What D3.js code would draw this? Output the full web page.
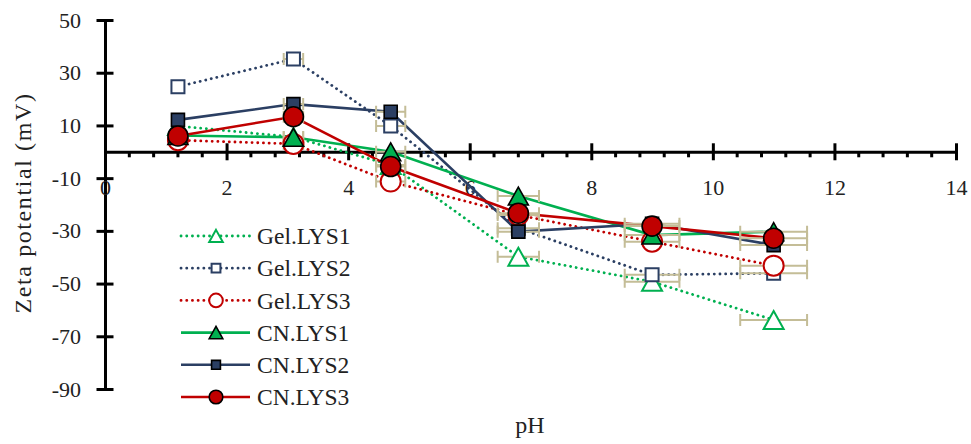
<!DOCTYPE html>
<html>
<head>
<meta charset="utf-8">
<script src="https://cdn.jsdelivr.net/npm/d3@7"></script>
<style>
  body { margin: 0; background: #fff; }
  svg { display: block; font-family: "Liberation Serif", "DejaVu Serif", serif; }
</style>
</head>
<body>
<div class="chart"></div>
<script>
// pH of each measurement
var ph = [1.2, 3.1, 4.7, 6.8, 9.0, 11.0];
// horizontal error (pH units)
var phErr = [0.06, 0.16, 0.24, 0.34, 0.45, 0.55];

var gelLys1 = [9.8, 5.6, -5, -39.8, -49.3, -63.8];
var gelLys2 = [24.7, 35.2, 9.8, -29, -46.7, -46.1];
var gelLys3 = [4.4, 3.0, -11.3, -24, -34.1, -43.2];
var cnLys1 = [6.2, 5.5, 0, -16.8, -31.6, -30.3];
var cnLys2 = [12.1, 18.1, 15.2, -30.3, -27.3, -35.4];
var cnLys3 = [6.0, 13.3, -5.6, -23.3, -28.2, -32.8];

var seriesNames = ["Gel.LYS1", "Gel.LYS2", "Gel.LYS3", "CN.LYS1", "CN.LYS2", "CN.LYS3"];
var xTicks = [0, 2, 4, 6, 8, 10, 12, 14];
var yTicks = [50, 30, 10, -10, -30, -50, -70, -90];

var green = "#00b050", navy = "#2b3f63", red = "#c00000", tan = "#c4bd97";

var series = [
  {name: seriesNames[0], values: gelLys1, color: green, dotted: true, shape: "tri", filled: false},
  {name: seriesNames[1], values: gelLys2, color: navy, dotted: true, shape: "sq", filled: false},
  {name: seriesNames[2], values: gelLys3, color: red, dotted: true, shape: "circ", filled: false},
  {name: seriesNames[3], values: cnLys1, color: green, dotted: false, shape: "tri", filled: true},
  {name: seriesNames[4], values: cnLys2, color: navy, dotted: false, shape: "sq", filled: true},
  {name: seriesNames[5], values: cnLys3, color: red, dotted: false, shape: "circ", filled: true}
];

var W = 971, H = 444;
var svg = d3.select(".chart").append("svg").attr("width", W).attr("height", H);

var x = d3.scaleLinear().domain([0, 14]).range([105, 956]);
var y = d3.scaleLinear().domain([-90, 50]).range([389, 20]);

// marker path, centred on its bounding box
function markerPath(shape, k) {
  k = k || 1;
  if (shape == "tri") {
    var w = 20 * k, h = 18 * k;
    return "M0," + (-h / 2) + "L" + (w / 2) + "," + (h / 2) + "L" + (-w / 2) + "," + (h / 2) + "Z";
  }
  if (shape == "sq") {
    var s = 13 * k / 2;
    return "M" + -s + "," + -s + "H" + s + "V" + s + "H" + -s + "Z";
  }
  var r = 10 * k;
  return "M" + r + ",0A" + r + "," + r + " 0 1,1 " + -r + ",0A" + r + "," + r + " 0 1,1 " + r + ",0Z";
}

function styleMarker(sel, s) {
  if (s.filled) {
    sel.attr("fill", s.color).attr("stroke", "#000").attr("stroke-width", 1.6);
  } else {
    sel.attr("fill", "#fff").attr("stroke", s.color).attr("stroke-width", 2);
  }
}

// y axis
var yAxis = svg.append("g")
  .attr("transform", "translate(" + x(0) + ",0)")
  .call(d3.axisLeft(y).tickValues(yTicks).tickSize(8).tickSizeOuter(0).tickFormat(function(d) { return String(d); }));
yAxis.select(".domain").attr("stroke", "#000").attr("stroke-width", 3);
yAxis.selectAll(".tick line").attr("x1", -8.5).attr("x2", 8.5).attr("stroke-width", 3);
yAxis.selectAll(".tick text").attr("x", -24).attr("font-size", 22).attr("fill", "#222")
  .attr("font-family", "Liberation Serif");

// x axis at y = 0
var xAxis = svg.append("g")
  .attr("transform", "translate(0," + y(0) + ")")
  .call(d3.axisBottom(x).tickValues(xTicks).tickSize(8).tickSizeOuter(0).tickFormat(function(d) { return String(d); }));
xAxis.select(".domain").attr("stroke", "#000").attr("stroke-width", 3);
xAxis.selectAll(".tick line").attr("y1", -8.5).attr("y2", 8.5).attr("stroke-width", 3);
xAxis.selectAll(".tick text").attr("y", 28).attr("font-size", 22).attr("fill", "#222")
  .attr("font-family", "Liberation Serif");

// minor ticks every 0.4
var minor = d3.range(0, 14.001, 0.4).filter(function(v) { return Math.abs(v / 2 - Math.round(v / 2)) > 0.01; });
xAxis.selectAll(".minor").data(minor).enter().append("line")
  .attr("x1", function(d) { return x(d); }).attr("x2", function(d) { return x(d); })
  .attr("y1", 0).attr("y2", 5.5).attr("stroke", "#000").attr("stroke-width", 3);

// titles
svg.append("text").attr("x", 530).attr("y", 433).attr("text-anchor", "middle")
  .attr("font-size", 24).attr("fill", "#222").text("pH");
svg.append("text").attr("transform", "translate(31,203) rotate(-90)").attr("text-anchor", "middle")
  .attr("font-size", 24).attr("letter-spacing", 1.6).attr("fill", "#222").text("Zeta potential (mV)");

var line = d3.line()
  .x(function(d, i) { return x(ph[i]); })
  .y(function(d) { return y(d); });

var plot = svg.append("g");

// lines
series.forEach(function(s) {
  plot.append("path")
    .attr("d", line(s.values))
    .attr("fill", "none")
    .attr("stroke", s.color)
    .attr("stroke-width", s.dotted ? 2.8 : 2.6)
    .attr("stroke-linecap", s.dotted ? "round" : "butt")
    .attr("stroke-dasharray", s.dotted ? "0.1 5.6" : null);
});

// horizontal error bars
series.forEach(function(s) {
  var g = plot.append("g").attr("stroke", tan).attr("stroke-width", 2).attr("fill", "none");
  s.values.forEach(function(v, i) {
    var x1 = x(ph[i] - phErr[i]), x2 = x(ph[i] + phErr[i]), yy = y(v);
    g.append("path").attr("d", "M" + x1 + "," + yy + "H" + x2 +
      "M" + x1 + "," + (yy - 6) + "V" + (yy + 6) + "M" + x2 + "," + (yy - 6) + "V" + (yy + 6));
  });
});

// markers
series.forEach(function(s) {
  plot.append("g").selectAll("path")
    .data(s.values)
    .enter().append("path")
    .attr("d", markerPath(s.shape))
    .attr("transform", function(d, i) { return "translate(" + x(ph[i]) + "," + y(d) + ")"; })
    .call(styleMarker, s);
});

// legend
var legend = svg.append("g");
series.forEach(function(s, i) {
  var ly = 236 + i * 32.2;
  var g = legend.append("g").attr("transform", "translate(0," + ly + ")");
  g.append("line").attr("x1", 181).attr("x2", 250).attr("y1", 0).attr("y2", 0)
    .attr("stroke", s.color).attr("stroke-width", s.dotted ? 2.8 : 2.6)
    .attr("stroke-linecap", s.dotted ? "round" : "butt")
    .attr("stroke-dasharray", s.dotted ? "0.1 5.6" : null);
  g.append("path").attr("d", markerPath(s.shape, 0.68))
    .attr("transform", "translate(216,0)").call(styleMarker, s);
  g.append("text").attr("x", 257).attr("y", 0).attr("dy", "0.35em")
    .attr("font-size", 23.5).attr("fill", "#222").text(s.name);
});
</script>
</body>
</html>
